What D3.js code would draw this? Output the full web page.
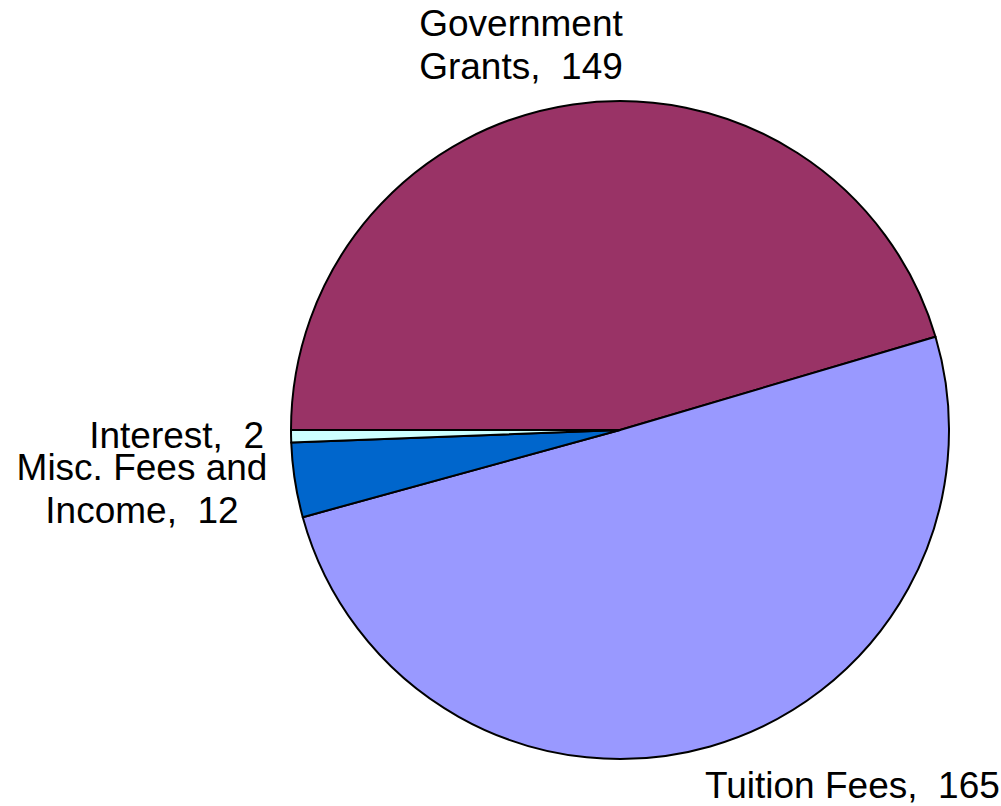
<!DOCTYPE html>
<html><head><meta charset="utf-8">
<script src="https://cdn.jsdelivr.net/npm/d3@7"></script>
<style>body{margin:0;background:#fff}svg{display:block}text{font-family:"Liberation Sans",Arial,sans-serif;font-size:37px;fill:#000;white-space:pre}</style>
</head><body>
<svg id="c" width="1001" height="806"></svg>
<script>
const categories = ["Government Grants", "Tuition Fees", "Misc. Fees and Income", "Interest"];
const values = [149, 165, 12, 2];
const colors = ["#993366", "#9999FF", "#0066CC", "#CCFFFF"];
const labelLines = [["Government", "Grants,  149"], ["Tuition Fees,  165"], ["Misc. Fees and", "Income,  12"], ["Interest,  2"]];

const svg = d3.select("#c");
const cx = 620, cy = 430, r = 329;
const pie = d3.pie().sort(null).startAngle(-Math.PI/2).endAngle(3*Math.PI/2);
const arc = d3.arc().innerRadius(0).outerRadius(r);
const data = categories.map((c,i)=>({name:c, value:values[i], color:colors[i], lines:labelLines[i]}));
const g = svg.append("g").attr("transform", `translate(${cx},${cy})`);
g.selectAll("path").data(pie.value(d=>d.value)(data)).join("path")
  .attr("d", arc).attr("fill", d=>d.data.color).attr("stroke", "#000").attr("stroke-width", 2).attr("stroke-linejoin","round");

const labelPos = [
  {x:521, y:36, anchor:"middle"},
  {x:705, y:798, anchor:"start"},
  {x:142, y:480, anchor:"middle"},
  {x:264, y:448, anchor:"end"}
];
data.forEach((d,i)=>{
  const p = labelPos[i];
  const t = svg.append("text").attr("x", p.x).attr("y", p.y).attr("text-anchor", p.anchor);
  d.lines.forEach((ln,j)=>{
    t.append("tspan").attr("x", p.x).attr("dy", j===0?0:43).text(ln);
  });
});
</script>
</body></html>
